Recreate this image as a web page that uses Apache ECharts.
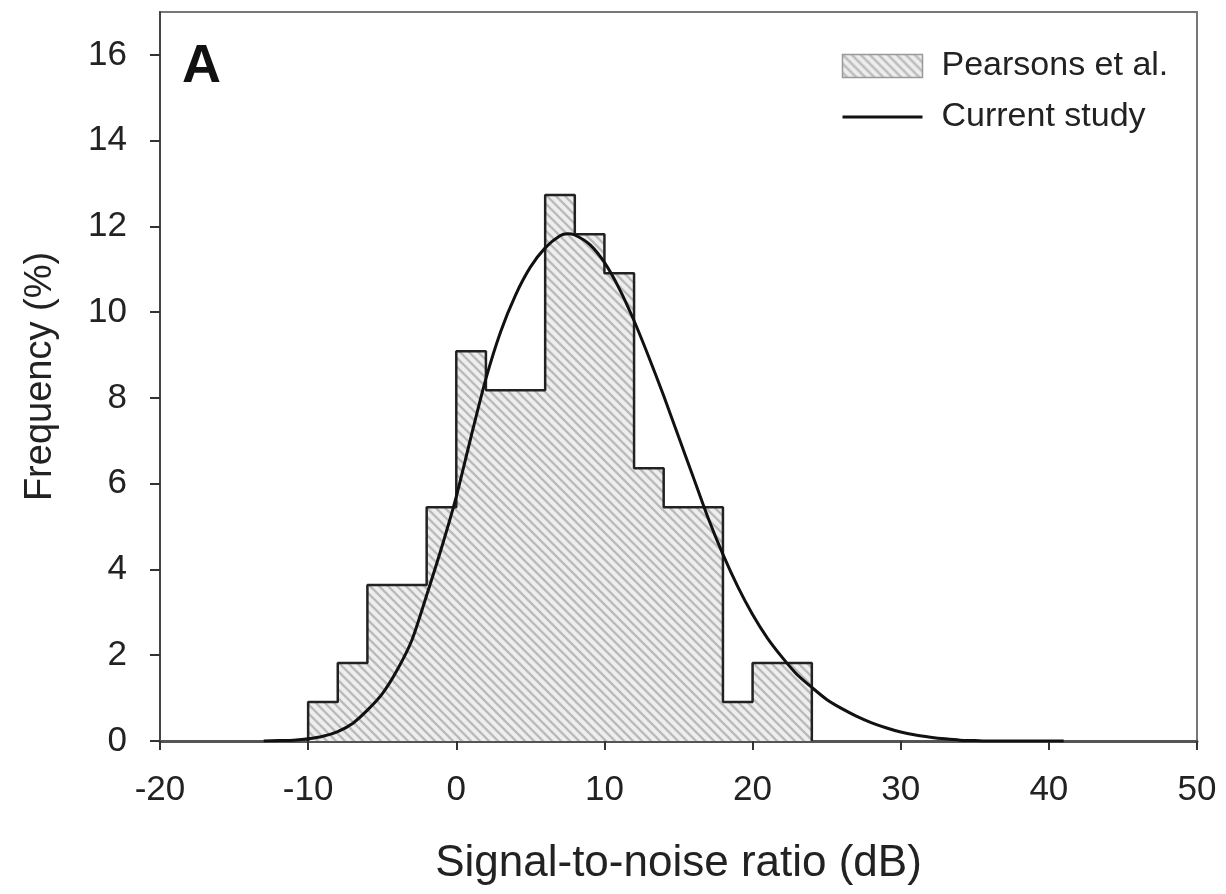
<!DOCTYPE html>
<html>
<head>
<meta charset="utf-8">
<script src="https://cdn.jsdelivr.net/npm/echarts@6/dist/echarts.min.js"></script>
<style>
html,body{margin:0;padding:0;background:#fff;}
#c{width:1226px;height:894px;}
</style>
</head>
<body>
<div id="c"></div>
<script>
// Histogram (Pearsons et al.): bin left edges (dB), bin width 2 dB, frequency (%)
const binEdges = [-10, -8, -6, -4, -2, 0, 2, 4, 6, 8, 10, 12, 14, 16, 18, 20, 22];
const binWidth = 2;
const pearsonsFreq = [0.91, 1.82, 3.64, 3.64, 5.45, 9.09, 8.18, 8.18, 12.73, 11.82, 10.91, 6.36, 5.45, 5.45, 0.91, 1.82, 1.82];

// Current study fitted curve
const curveX = [-13, -12, -11, -10, -9, -8, -7, -6, -5, -4, -3, -2, -1, 0, 1, 2, 3, 4, 5, 6, 7, 7.5, 8, 9, 10, 11, 12, 13, 14, 15, 16, 17, 18, 19, 20, 21, 22, 23, 24, 25, 26, 27, 28, 29, 30, 31, 32, 33, 34, 35, 36, 38, 41];
const curveY = [0, 0.01, 0.02, 0.05, 0.11, 0.22, 0.41, 0.72, 1.1, 1.65, 2.35, 3.4, 4.5, 5.7, 7.1, 8.45, 9.55, 10.4, 11.05, 11.5, 11.78, 11.83, 11.8, 11.58, 11.16, 10.55, 9.8, 8.95, 8.05, 7.1, 6.15, 5.2, 4.35, 3.6, 2.95, 2.4, 1.95, 1.55, 1.25, 0.97, 0.76, 0.58, 0.43, 0.31, 0.21, 0.14, 0.09, 0.05, 0.02, 0.01, 0, 0, 0];

// axis ticks
const xTicks = [-20, -10, 0, 10, 20, 30, 40, 50];
const yTicks = [0, 2, 4, 6, 8, 10, 12, 14, 16];

// hatch pattern
function makeHatch() {
  const s = 9;
  const cv = document.createElement('canvas');
  cv.width = s; cv.height = s;
  const g = cv.getContext('2d');
  g.fillStyle = '#eeeeee';
  g.fillRect(0, 0, s, s);
  g.strokeStyle = '#bababa';
  g.lineWidth = 2.3;
  g.beginPath();
  g.moveTo(-2, -2); g.lineTo(s + 2, s + 2);
  g.moveTo(-2, s - 2); g.lineTo(2, s + 2);
  g.moveTo(s - 2, -2); g.lineTo(s + 2, 2);
  g.stroke();
  return cv;
}
const hatch = { image: makeHatch(), repeat: 'repeat' };

// step outline data built from bins
const stepData = [[binEdges[0], 0]];
for (let i = 0; i < binEdges.length; i++) stepData.push([binEdges[i], pearsonsFreq[i]]);
const lastEdge = binEdges[binEdges.length - 1] + binWidth;
stepData.push([lastEdge, pearsonsFreq[pearsonsFreq.length - 1]]);
stepData.push([lastEdge, 0]);

const curveData = curveX.map((x, i) => [x, curveY[i]]);

const chart = echarts.init(document.getElementById('c'), null, { renderer: 'canvas' });
const font = 'Liberation Sans, Arial, sans-serif';
chart.setOption({
  animation: false,
  backgroundColor: '#fff',
  textStyle: { fontFamily: font },
  grid: { left: 160, right: 29, top: 12, bottom: 153, show: true, borderColor: '#777', borderWidth: 2, backgroundColor: 'transparent' },
  legend: {
    orient: 'vertical', left: 836, top: 44,
    itemWidth: 80, itemHeight: 23, itemGap: 17,
    textStyle: { fontSize: 34, color: '#222', fontFamily: font, padding: [0, 0, 0, 14] },
    data: [
      { name: 'Pearsons et al.', icon: 'rect', itemStyle: { color: hatch, borderColor: '#999', borderWidth: 1.5 } },
      { name: 'Current study', itemStyle: { color: '#111', opacity: 0 }, lineStyle: { color: '#111', width: 3, opacity: 1 } }
    ]
  },
  xAxis: {
    type: 'value', min: -20, max: 50, interval: 10,
    name: 'Signal-to-noise ratio (dB)', nameLocation: 'middle', nameGap: 101,
    nameTextStyle: { fontSize: 44, color: '#222', fontFamily: font },
    axisLine: { show: true, onZero: false, lineStyle: { color: '#555', width: 3 } },
    axisTick: { show: true, inside: false, length: 9, lineStyle: { color: '#333', width: 2 } },
    axisLabel: { fontSize: 35, color: '#222', margin: 32, fontFamily: font,
                 customValues: xTicks },
    splitLine: { show: false }
  },
  yAxis: {
    type: 'value', min: 0, max: 17,
    name: 'Frequency (%)', nameLocation: 'middle', nameGap: 100,
    nameTextStyle: { fontSize: 38, color: '#222', fontFamily: font },
    axisLine: { show: true, onZero: false, lineStyle: { color: '#444', width: 2 } },
    axisTick: { show: true, inside: false, length: 10, lineStyle: { color: '#333', width: 2 }, customValues: yTicks },
    axisLabel: { fontSize: 35, color: '#222', margin: 33, fontFamily: font, customValues: yTicks },
    splitLine: { show: false }
  },
  graphic: [
    { type: 'text', left: 182, top: 40, style: { text: 'A', font: 'bold 54px Liberation Sans, Arial, sans-serif', fill: '#111' } }
  ],
  series: [
    {
      name: 'Pearsons et al.', type: 'line', step: 'end', data: stepData,
      symbol: 'none', z: 2,
      lineStyle: { color: '#222', width: 2.5 },
      itemStyle: { color: hatch },
      areaStyle: { color: hatch, opacity: 1 }
    },
    {
      name: 'Current study', type: 'line', smooth: 0.25, data: curveData,
      symbol: 'none', z: 3,
      lineStyle: { color: '#111', width: 3 },
      itemStyle: { color: '#111' }
    }
  ]
});
</script>
</body>
</html>
